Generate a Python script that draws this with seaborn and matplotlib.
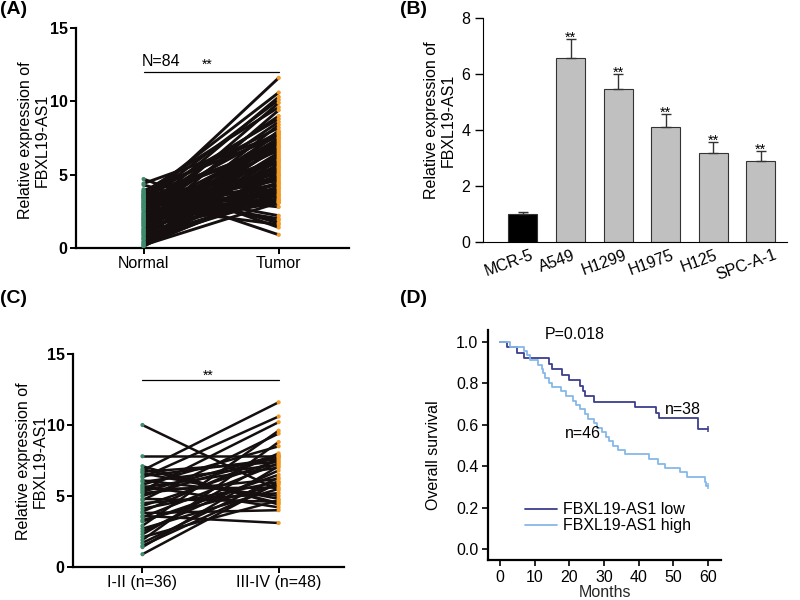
import numpy as np
import pandas as pd
import matplotlib
matplotlib.use("Agg")
import matplotlib.pyplot as plt
import matplotlib.transforms as mtransforms
import seaborn as sns

# ---------------- data ----------------
groups_A = ["Normal", "Tumor"]
normal_A = [3.0, 3.5, 2.6, 3.2, 2.0, 3.8, 1.5, 2.8, 3.4, 2.3, 1.1, 3.6,
            0.6, 2.9, 1.8, 3.9, 0.3, 2.5, 1.3, 3.3, 0.9, 2.1, 3.7, 0.4,
            1.6, 2.7, 0.2, 3.1, 1.0, 2.2, 0.1, 1.9, 3.5, 0.7, 2.4, 1.2,
            3.0, 0.5, 1.7, 2.8, 0.8, 2.0, 3.4, 1.4, 0.3, 2.6, 1.1, 3.2,
            0.6, 1.8, 2.3, 0.2, 1.5, 2.9, 4.7, 4.3, 4.0, 3.9, 3.6, 3.8,
            4.4, 3.1, 3.7, 1.3, 2.1, 0.9, 2.7, 3.3, 1.6, 0.4, 2.2, 3.6,
            1.0, 2.4, 3.0, 0.7, 1.9, 3.5, 2.8, 1.2, 0.15, 2.0, 3.4, 1.7]
tumor_A = [11.6, 10.6, 10.3, 10.1, 9.9, 9.6, 9.4, 9.0, 8.8, 8.6, 8.4, 8.2,
           8.0, 7.9, 7.8, 7.6, 7.5, 7.3, 7.2, 7.0, 6.9, 6.7, 6.6, 6.4,
           6.3, 6.1, 6.0, 5.8, 5.7, 5.5, 5.4, 5.2, 5.1, 5.0, 4.9, 4.8,
           4.6, 4.5, 4.4, 4.3, 4.2, 4.1, 4.0, 3.9, 3.8, 3.7, 3.6, 3.5,
           3.4, 3.3, 3.2, 3.1, 3.1, 3.1, 1.4, 1.7, 0.9, 2.2, 1.9, 2.8,
           7.7, 5.9, 6.8, 7.4, 5.3, 6.5, 4.7, 7.1, 5.6, 6.2, 3.3, 5.0,
           7.9, 4.4, 6.0, 3.6, 7.5, 2.0, 1.6, 6.9, 4.1, 5.5, 3.2, 7.8]

cells_B = ["MCR-5", "A549", "H1299", "H1975", "H125", "SPC-A-1"]
means_B = [0.99, 6.56, 5.45, 4.10, 3.19, 2.88]
errs_B = [0.09, 0.68, 0.54, 0.47, 0.39, 0.38]
stars_B = ["", "**", "**", "**", "**", "**"]

groups_C = ["I-II (n=36)", "III-IV (n=48)"]
early_C = [10.0, 7.8, 7.1, 6.8, 6.7, 6.6, 6.4, 6.3, 6.1, 6.0,
           5.8, 5.7, 5.6, 5.5, 5.4, 5.2, 5.0, 4.8, 4.7, 4.5,
           4.3, 4.1, 3.9, 3.8, 3.6, 3.5, 3.3, 3.2, 2.9, 2.7,
           2.5, 2.3, 2.1, 1.9, 1.7, 1.5, 1.4, 0.9, 6.9, 5.3]
late_C = [5.4, 7.8, 4.4, 11.6, 7.4, 4.8, 7.6, 10.6, 5.0, 7.2,
          8.5, 4.2, 7.0, 5.6, 10.2, 6.2, 7.8, 4.6, 9.4, 5.2,
          7.5, 6.0, 8.0, 4.0, 3.1, 7.3, 5.8, 6.5, 9.6, 5.5,
          6.8, 7.7, 4.7, 8.8, 6.3, 5.9, 7.1, 6.0, 4.5, 7.9]

low_t = [0, 2, 5, 7, 14, 15, 18, 20, 23, 24, 24.5, 27, 39, 45, 46, 57, 60]
low_s = [1.0, 0.974, 0.947, 0.921, 0.895, 0.868, 0.842, 0.816, 0.789, 0.763,
         0.737, 0.711, 0.684, 0.658, 0.632, 0.579, 0.579]
high_t = [0, 3, 7, 7.7, 8.7, 11, 12, 12.5, 13, 14, 15, 17.5, 19, 21, 22, 23,
          24.5, 25.5, 27, 28, 29.5, 30.5, 31.5, 32.5, 34, 36, 43, 45.5, 47.5,
          52, 54, 59, 59.3, 60]
high_s = [1.0, 0.978, 0.957, 0.935, 0.913, 0.891, 0.870, 0.848, 0.826, 0.804,
          0.783, 0.761, 0.739, 0.717, 0.696, 0.674, 0.652, 0.630, 0.609, 0.587,
          0.565, 0.543, 0.522, 0.500, 0.478, 0.457, 0.435, 0.413, 0.391, 0.370,
          0.348, 0.326, 0.304, 0.304]

# ---------------- style ----------------
sns.set_style("ticks")
plt.rcParams["font.family"] = ["Liberation Sans", "DejaVu Sans"]
plt.rcParams["font.size"] = 11.5
plt.rcParams["axes.edgecolor"] = "black"
plt.rcParams["xtick.color"] = "black"
plt.rcParams["ytick.color"] = "black"
plt.rcParams["text.color"] = "black"

GREEN = "#3f8a6c"
ORANGE = "#f39c2a"
DARK = "#3c3f8c"
LIGHT = "#86b8e8"

fig = plt.figure(figsize=(8, 6), dpi=100)


def px_axes(left, top, right, bottom):
    return fig.add_axes([left / 800, 1 - bottom / 600,
                         (right - left) / 800, (bottom - top) / 600])


def paired_panel(ax, a, b, labels, lw):
    n = len(a)
    df = pd.DataFrame({"id": list(range(n)) * 2,
                       "pos": [0] * n + [1] * n,
                       "value": a + b})
    sns.lineplot(data=df, x="pos", y="value", units="id", estimator=None,
                 color="#150f0f", lw=lw, ax=ax, legend=False)
    sns.scatterplot(data=df, x="pos", y="value", hue="pos",
                    palette={0: GREEN, 1: ORANGE}, s=9, linewidth=0,
                    ax=ax, legend=False, zorder=3)
    ax.set_ylim(0, 15)
    ax.set_yticks([0, 5, 10, 15])
    ax.set_xticks([0, 1])
    ax.set_xticklabels(labels)
    for lbl in ax.get_yticklabels():
        lbl.set_fontweight("bold")
    ax.set_xlabel("")
    ax.set_ylabel("")
    sns.despine(ax=ax)
    for sp in ("left", "bottom"):
        ax.spines[sp].set_linewidth(1.6)
    ax.tick_params(axis="both", length=4, width=1.4, pad=2)


# ---------------- Panel A ----------------
axA = px_axes(76, 28, 349, 248)
paired_panel(axA, normal_A, tumor_A, groups_A, lw=2.1)
axA.set_xlim(-0.5, 1.52)
axA.plot([0, 1], [12.0, 12.0], color="black", lw=0.9)
axA.text(-0.015, 12.4, "N=84", ha="left", va="baseline", fontsize=11.5)
axA.text(0.47, 12.2, "**", ha="center", va="baseline", fontsize=10)

# ---------------- Panel C ----------------
axC = px_axes(73, 354, 344, 567)
paired_panel(axC, early_C, late_C, groups_C, lw=1.8)
axC.set_xlim(-0.51, 1.48)
axC.plot([0, 1], [13.17, 13.17], color="black", lw=0.9)
axC.text(0.48, 13.2, "**", ha="center", va="baseline", fontsize=10)

# ---------------- Panel B ----------------
axB = px_axes(483, 18, 787, 242)
dfB = pd.DataFrame({"cell": cells_B, "mean": means_B})
palB = {c: ("black" if i == 0 else "#c0c0c0") for i, c in enumerate(cells_B)}
sns.barplot(data=dfB, x="cell", y="mean", hue="cell", palette=palB,
            width=0.61, edgecolor="#333333", linewidth=0.8, ax=axB,
            legend=False, errorbar=None, saturation=1)
axB.errorbar(x=np.arange(len(cells_B)), y=means_B,
             yerr=[np.zeros(len(errs_B)), errs_B], fmt="none",
             ecolor="#333333", elinewidth=1.0, capsize=3.5, capthick=1.0)
for i, (m, e, s) in enumerate(zip(means_B, errs_B, stars_B)):
    if s:
        axB.text(i, m + e - 0.1, s, ha="center", va="baseline", fontsize=10.5)
axB.set_xlim(-0.84, 5.55)
axB.set_ylim(0, 8)
axB.set_yticks([0, 2, 4, 6, 8])
axB.set_xlabel("")
axB.set_ylabel("")
sns.despine(ax=axB)
axB.tick_params(axis="y", length=6, width=1.0, pad=3)
axB.tick_params(axis="x", length=0, pad=4)
offset = mtransforms.ScaledTranslation(-0.14, 0, fig.dpi_scale_trans)
for lbl in axB.get_xticklabels():
    lbl.set_rotation(20)
    lbl.set_ha("center")
    lbl.set_transform(lbl.get_transform() + offset)

# ---------------- Panel D ----------------
axD = px_axes(488, 330, 721, 560)
sns.lineplot(x=low_t, y=low_s, drawstyle="steps-post", estimator=None,
             color=DARK, lw=1.3, ax=axD, label="FBXL19-AS1 low")
sns.lineplot(x=high_t, y=high_s, drawstyle="steps-post", estimator=None,
             color=LIGHT, lw=1.3, ax=axD, label="FBXL19-AS1 high")
sns.scatterplot(x=[low_t[-1]], y=[low_s[-1]], marker="|", s=25,
                color=DARK, linewidth=1.1, ax=axD, legend=False)
sns.scatterplot(x=[high_t[-1]], y=[high_s[-1]], marker="|", s=25,
                color=LIGHT, linewidth=1.1, ax=axD, legend=False)
axD.set_xlim(-3.46, 63.75)
axD.set_ylim(-0.053, 1.058)
axD.set_xticks(range(0, 61, 10))
axD.set_yticks([0.0, 0.2, 0.4, 0.6, 0.8, 1.0])
axD.set_yticklabels(["0.0", "0.2", "0.4", "0.6", "0.8", "1.0"])
sns.despine(ax=axD)
for sp in ("left", "bottom"):
    axD.spines[sp].set_linewidth(1.6)
axD.tick_params(axis="both", length=4, width=1.2, pad=3)
axD.set_xlabel("Months", labelpad=0)
axD.set_ylabel("")
axD.text(13, 1.034, "P=0.018", ha="left", va="center", fontsize=11.5)
axD.text(47.6, 0.676, "n=38", ha="left", va="center", fontsize=11.5)
axD.text(18.7, 0.56, "n=46", ha="left", va="center", fontsize=11.5)
axD.legend(loc="upper left", bbox_to_anchor=(0.159, 0.25), frameon=False,
           handlelength=2.0, handletextpad=0.4, borderpad=0,
           borderaxespad=0, labelspacing=0.05, fontsize=11.5)

# ---------------- y labels & panel letters ----------------
ylab = "Relative expression of\nFBXL19-AS1"
fig.text(34 / 800, 1 - 140 / 600, ylab, rotation=90, ha="center", va="center",
         fontsize=11.5, linespacing=1.15)
fig.text(440 / 800, 1 - 120 / 600, ylab, rotation=90, ha="center", va="center",
         fontsize=11.5, linespacing=1.15)
fig.text(32 / 800, 1 - 461 / 600, ylab, rotation=90, ha="center", va="center",
         fontsize=11.5, linespacing=1.15)
fig.text(434 / 800, 1 - 455 / 600, "Overall survival", rotation=90,
         ha="center", va="center", fontsize=11.5)

for lab, x, y in [("(A)", 0, 1), ("(B)", 400, 1), ("(C)", 0, 290), ("(D)", 400, 290)]:
    fig.text(x / 800, 1 - y / 600, lab, ha="left", va="top",
             fontsize=14, fontweight="bold")

fig.savefig("out.png", dpi=100)
